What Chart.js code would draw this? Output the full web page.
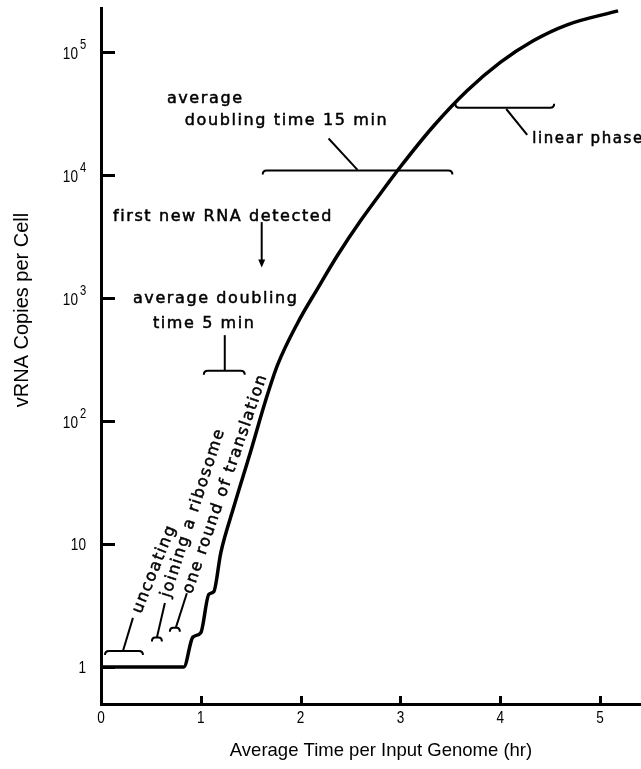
<!DOCTYPE html>
<html>
<head>
<meta charset="utf-8">
<script src="https://cdn.jsdelivr.net/npm/chart.js@4.4.0/dist/chart.umd.min.js"></script>
<style>
  html, body { margin: 0; padding: 0; background: #fff; }
  canvas { display: block; }
</style>
</head>
<body>
<canvas id="chart" width="641" height="769"></canvas>
<script>
// values
var timeHr = [0, 0.83, 0.92, 1.0, 1.08, 1.13, 1.2, 1.33, 1.5, 1.65, 1.77, 1.97, 2.17, 2.37, 2.6, 2.87, 3.0, 3.33, 3.67, 4.0, 4.33, 4.67, 5.18];
var copies = [1, 1, 1.75, 1.9, 3.9, 4.1, 8.5, 20, 57, 148, 288, 630, 1200, 2240, 4270, 8500, 11750, 25100, 49000, 83000, 124500, 168000, 218000];

var xTicks = [0, 1, 2, 3, 4, 5];
var yTicks = [1, 10, 100, 1000, 10000, 100000];
var yTickBase = ["1", "10", "10", "10", "10", "10"];
var yTickExp = ["", "", "2", "3", "4", "5"];

var xTitle = "Average Time per Input Genome (hr)";
var yTitle = "vRNA Copies per Cell";

var points = timeHr.map(function (t, i) { return { x: t, y: copies[i] }; });

// axes ticks, labels and the notes on the plot
var notes = {
  id: "notes",
  beforeDraw: function (chart) {
    var ctx = chart.ctx;
    ctx.save();
    ctx.fillStyle = "#fff";
    ctx.fillRect(0, 0, chart.width, chart.height);
    ctx.restore();
  },
  afterDraw: function (chart) {
    var ctx = chart.ctx, xs = chart.scales.x, ys = chart.scales.y, area = chart.chartArea;
    function X(t) { return xs.getPixelForValue(t); }
    function Y(lg) { return ys.getPixelForValue(Math.pow(10, lg)); }

    ctx.save();
    ctx.strokeStyle = "#000";
    ctx.fillStyle = "#000";

    // inward tick marks
    ctx.lineWidth = 3;
    ctx.beginPath();
    yTicks.forEach(function (v) {
      var y = Math.round(ys.getPixelForValue(v)) + 0.5;
      ctx.moveTo(area.left, y);
      ctx.lineTo(area.left + 14, y);
    });
    xTicks.forEach(function (v) {
      if (v === 0) return;
      var x = Math.round(xs.getPixelForValue(v)) + 0.5;
      ctx.moveTo(x, area.bottom);
      ctx.lineTo(x, area.bottom - 8);
    });
    ctx.stroke();

    function narrow(txt, x, y, size, align) {
      ctx.save();
      ctx.font = size + "px 'Liberation Sans', Arial, sans-serif";
      ctx.textAlign = align;
      ctx.textBaseline = "alphabetic";
      ctx.translate(x, y);
      ctx.scale(0.8, 1);
      ctx.fillText(txt, 0, 0);
      ctx.restore();
    }

    xTicks.forEach(function (v) {
      narrow(String(v), xs.getPixelForValue(v), area.bottom + 19, 17, "center");
    });
    yTicks.forEach(function (v, i) {
      var y = ys.getPixelForValue(v);
      if (yTickExp[i]) {
        narrow(yTickBase[i], area.left - 23, y + 7, 17, "right");
        narrow(yTickExp[i], area.left - 21, y - 3, 14, "left");
      } else {
        narrow(yTickBase[i], area.left - 15, y + 6, 17, "right");
      }
    });

    // axis titles
    ctx.font = "18.5px 'Liberation Sans', Arial, sans-serif";
    ctx.textAlign = "center";
    ctx.fillText(xTitle, 381, 756);
    ctx.save();
    ctx.translate(28, 310);
    ctx.rotate(-Math.PI / 2);
    ctx.font = "20px 'Liberation Sans', Arial, sans-serif";
    ctx.fillText(yTitle, 0, 0);
    ctx.restore();

    // annotation texts (a thin stroke gives the heavier print look)
    ctx.textAlign = "left";
    ctx.letterSpacing = "1.6px";
    ctx.lineWidth = 0.5;
    function say(txt, t, lg, deg, size) {
      ctx.save();
      ctx.font = (size || 16) + "px 'DejaVu Sans', sans-serif";
      ctx.translate(X(t), Y(lg));
      if (deg) ctx.rotate(deg * Math.PI / 180);
      ctx.fillText(txt, 0, 0);
      ctx.strokeText(txt, 0, 0);
      ctx.restore();
    }
    say("average", 0.66, 4.59);
    say("doubling time 15 min", 0.84, 4.41);
    say("first new RNA detected", 0.12, 3.63);
    say("average doubling", 0.32, 2.96);
    say("time 5 min", 0.52, 2.76);
    say("linear phase", 4.32, 4.26, 0, 15);
    say("uncoating", 0.40, 0.43, -68);
    say("joining a ribosome", 0.69, 0.56, -72);
    say("one round of translation", 0.91, 0.59, -71);

    // braces: hook > 0 bends ends downward, < 0 upward
    ctx.lineWidth = 2;
    function brace(t1, t2, lg, hook) {
      var x1 = X(t1), x2 = X(t2), y = Y(lg);
      var r = Math.min(4, (x2 - x1) / 3);
      ctx.beginPath();
      ctx.moveTo(x1, y + hook);
      ctx.quadraticCurveTo(x1, y, x1 + r, y);
      ctx.lineTo(x2 - r, y);
      ctx.quadraticCurveTo(x2, y, x2, y + hook);
      ctx.stroke();
    }
    function seg(t1, lg1, t2, lg2) {
      ctx.beginPath();
      ctx.moveTo(X(t1), Y(lg1));
      ctx.lineTo(X(t2), Y(lg2));
      ctx.stroke();
    }
    brace(1.62, 3.52, 4.04, 4);
    seg(2.57, 4.045, 2.28, 4.30);

    brace(3.55, 4.54, 4.55, -4);
    seg(4.06, 4.54, 4.27, 4.33);

    brace(1.03, 1.44, 2.41, 4);
    seg(1.24, 2.41, 1.24, 2.70);

    brace(0.04, 0.42, 0.13, 4);
    seg(0.22, 0.13, 0.32, 0.40);
    brace(0.51, 0.61, 0.24, 4);
    seg(0.56, 0.24, 0.64, 0.52);
    brace(0.69, 0.79, 0.32, 4);
    seg(0.75, 0.32, 0.86, 0.60);

    // arrow to first detection
    var ax = X(1.61), ay1 = Y(3.62), ay2 = Y(3.25);
    ctx.beginPath();
    ctx.moveTo(ax, ay1);
    ctx.lineTo(ax, ay2 - 6);
    ctx.stroke();
    ctx.beginPath();
    ctx.moveTo(ax - 3.5, ay2 - 8);
    ctx.lineTo(ax + 3.5, ay2 - 8);
    ctx.lineTo(ax, ay2);
    ctx.closePath();
    ctx.fill();

    ctx.restore();
  }
};

var ctx = document.getElementById("chart").getContext("2d");
var chart = new Chart(ctx, {
  type: "line",
  data: {
    datasets: [{
      data: points,
      borderColor: "#000",
      borderWidth: 3.5,
      pointRadius: 0,
      fill: false,
      cubicInterpolationMode: "monotone"
    }]
  },
  options: {
    responsive: false,
    animation: false,
    layout: { padding: { top: 8, right: 1, left: 0, bottom: 0 } },
    plugins: { legend: { display: false }, tooltip: { enabled: false } },
    scales: {
      x: {
        type: "linear",
        min: 0,
        max: 5.4,
        grid: { display: false },
        border: { display: true, color: "#000", width: 3 },
        ticks: { display: false },
        afterFit: function (s) { s.height = 65; }
      },
      y: {
        type: "logarithmic",
        min: 0.5,
        max: 230000,
        grid: { display: false },
        border: { display: true, color: "#000", width: 3 },
        ticks: { display: false },
        afterFit: function (s) { s.width = 101; }
      }
    }
  },
  plugins: [notes]
});
</script>
</body>
</html>
